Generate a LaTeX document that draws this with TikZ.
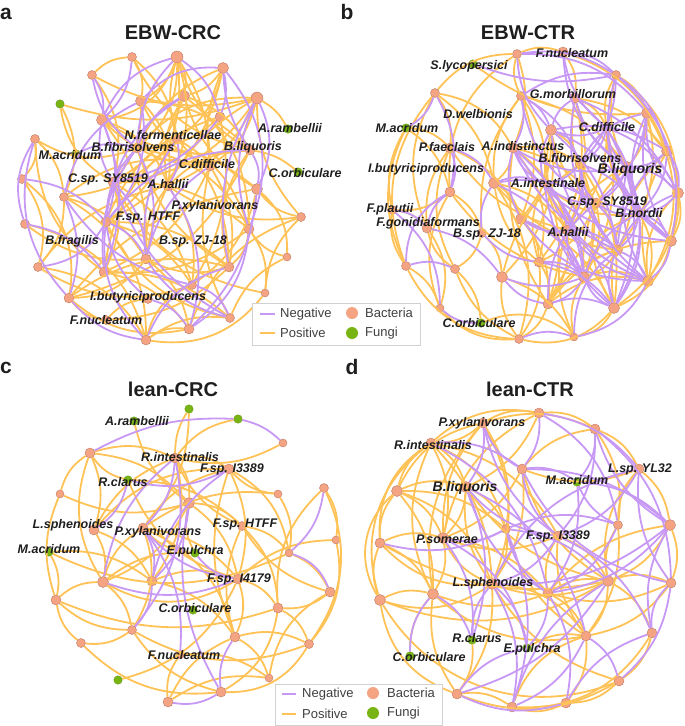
\documentclass[tikz,border=0pt]{standalone}
\usepackage{fontspec}
\setmainfont{Liberation Sans}
\definecolor{poscol}{RGB}{255,194,86}
\definecolor{negcol}{RGB}{200,152,245}
\definecolor{bacfill}{RGB}{244,164,130}
\definecolor{bacline}{RGB}{190,120,100}
\definecolor{funfill}{RGB}{120,180,20}
\definecolor{funline}{RGB}{95,145,15}
\definecolor{txt}{RGB}{30,30,30}
\tikzset{
  bac/.style={circle, draw=bacline, fill=bacfill, line width=0.4pt, inner sep=0pt, minimum size=#1},
  bac/.default=10pt,
  fun/.style={circle, draw=funline, fill=funfill, line width=0.3pt, inner sep=0pt, minimum size=8.5pt},
  posedge/.style={draw=poscol, line width=1.8pt},
  negedge/.style={draw=negcol, line width=1.8pt},
  lab/.style={font=\fontsize{12.5}{14}\selectfont\bfseries\itshape, text=txt, inner sep=0pt},
  biglab/.style={font=\fontsize{14}{16}\selectfont\bfseries\itshape, text=txt, inner sep=0pt},
  ttl/.style={font=\fontsize{20}{22}\selectfont\bfseries, text=txt, inner sep=0pt},
  letter/.style={font=\fontsize{21}{23}\selectfont\bfseries, text=txt, inner sep=0pt},
  legtxt/.style={font=\fontsize{13}{15}\selectfont, text=black!75, inner sep=0pt, anchor=west},
  legbox/.style={draw=black!18, line width=1pt, fill=white},
  legdot/.style={circle, inner sep=0pt, minimum size=12pt},
}
\begin{document}
\begin{tikzpicture}[x=1pt,y=-1pt]
\useasboundingbox (0,0) rectangle (685,726);
% ---------------- panel a nodes ----------------
\node[bac=9pt] (a1) at (132,57) {};
\node[bac=12pt] (a2) at (177,57) {};
\node[bac=11pt] (a3) at (223,68) {};
\node[bac=9pt] (a4) at (92,75) {};
\node[fun] (af1) at (60,104) {};
\node[bac=11pt] (a5) at (141,101) {};
\node[bac=11pt] (a6) at (184,96) {};
\node[bac=12pt] (a7) at (257,98) {};
\node[bac=10pt] (a8) at (220,117) {};
\node[bac=11pt] (a9) at (102,120) {};
\node[bac=9pt] (a10) at (35,139) {};
\node[fun] (af2) at (288,129) {};
\node[bac=10pt] (a11) at (177,139) {};
\node[bac=10pt] (a12) at (137,148) {};
\node[bac=10pt] (a13) at (250,150) {};
\node[fun] (af3) at (76,154) {};
\node[bac=10pt] (a14) at (210,166) {};
\node[fun] (af4) at (298,172) {};
\node[bac=9pt] (a15) at (22,179) {};
\node[bac=10pt] (a16) at (113,182) {};
\node[bac=10pt] (a17) at (168,186) {};
\node[bac=11pt] (a18) at (257,189) {};
\node[bac=9pt] (a19) at (64,197) {};
\node[bac=10pt] (a21) at (106,222) {};
\node[bac=9pt] (a22) at (301,217) {};
\node[bac=9pt] (a23) at (25,224) {};
\node[bac=10pt] (a24) at (249,229) {};
\node[bac=10pt] (a25) at (146,259) {};
\node[bac=8pt] (a26) at (287,257) {};
\node[bac=10pt] (a27) at (229,267) {};
\node[bac=9pt] (a28) at (38,267) {};
\node[bac=10pt] (a29) at (104,272) {};
\node[bac=9pt] (a30) at (192,285) {};
\node[bac=8pt] (a31) at (265,293) {};
\node[bac=10pt] (a32) at (69,298) {};
\node[bac=9pt] (a33) at (148,299) {};
\node[bac=9pt] (a34) at (230,318) {};
\node[bac=10pt] (a35) at (189,329) {};
\node[bac=10pt] (a36) at (146,340) {};
\node[bac=9pt] (a37) at (106,320) {};
% ---------------- panel b nodes ----------------
\node[bac=9pt] (b1) at (517,54) {};
\node[bac=10pt] (b2) at (563,52) {};
\node[fun] (bf1) at (473,64) {};
\node[bac=9pt] (b3) at (616,75) {};
\node[bac=9pt] (b4) at (435,93) {};
\node[bac=9pt] (b5) at (521,96) {};
\node[bac=10pt] (b6) at (575,98) {};
\node[bac=11pt] (b7) at (647,113) {};
\node[fun] (bf2) at (406,128) {};
\node[bac=11pt] (b9) at (551,130) {};
\node[bac=10pt] (b10) at (607,128) {};
\node[bac=10pt] (b11) at (450,148) {};
\node[bac=10pt] (b12) at (513,148) {};
\node[bac=11pt] (b13) at (667,151) {};
\node[bac=10pt] (b14) at (580,164) {};
\node[bac=11pt] (b15) at (627,167) {};
\node[bac=11pt] (b16) at (494,183) {};
\node[bac=10pt] (b17) at (544,183) {};
\node[bac=11pt] (b18) at (678,193) {};
\node[bac=10pt] (b19) at (450,192) {};
\node[bac=9pt] (b20) at (392,210) {};
\node[bac=10pt] (b21) at (596,203) {};
\node[bac=10pt] (b22) at (639,213) {};
\node[bac=11pt] (b23) at (521,219) {};
\node[bac=10pt] (b24) at (427,228) {};
\node[bac=9pt] (b25) at (482,233) {};
\node[bac=10pt] (b26) at (567,230) {};
\node[bac=11pt] (b27) at (671,241) {};
\node[bac=11pt] (b28) at (617,250) {};
\node[bac=10pt] (b29) at (539,262) {};
\node[bac=9pt] (b30) at (406,266) {};
\node[bac=9pt] (b31) at (455,269) {};
\node[bac=11pt] (b32) at (502,277) {};
\node[bac=11pt] (b33) at (584,277) {};
\node[bac=11pt] (b34) at (648,281) {};
\node[bac=10pt] (b35) at (548,304) {};
\node[bac=11pt] (b36) at (614,308) {};
\node[bac=8pt] (b37) at (440,308) {};
\node[fun] (bf3) at (481,323) {};
\node[bac=9pt] (b38) at (519,339) {};
\node[bac=8pt] (b39) at (574,337) {};
% ---------------- panel c nodes ----------------
\node[fun] (cf1) at (189,409) {};
\node[fun] (cf2) at (238,419) {};
\node[fun] (cf3) at (134,421) {};
\node[bac=8pt] (c1) at (283,443) {};
\node[bac=10pt] (c2) at (90,453) {};
\node[bac=10pt] (c3) at (175,458) {};
\node[bac=10pt] (c4) at (229,469) {};
\node[fun] (cf4) at (128,480) {};
\node[bac=9pt] (c5) at (324,488) {};
\node[bac=8pt] (c6) at (278,494) {};
\node[bac=8pt] (c7) at (60,494) {};
\node[bac=11pt] (c8) at (189,503) {};
\node[bac=10pt] (c9) at (94,530) {};
\node[bac=10pt] (c10) at (143,528) {};
\node[bac=9pt] (c11) at (242,526) {};
\node[bac=8pt] (c12) at (336,540) {};
\node[fun] (cf5) at (49,552) {};
\node[fun] (cf6) at (195,553) {};
\node[bac=8pt] (c13) at (289,553) {};
\node[bac=11pt] (c14) at (103,582) {};
\node[bac=10pt] (c15) at (152,581) {};
\node[bac=10pt] (c16) at (238,579) {};
\node[bac=10pt] (c17) at (330,592) {};
\node[bac=10pt] (c18) at (56,600) {};
\node[fun] (cf7) at (193,610) {};
\node[bac=10pt] (c19) at (278,608) {};
\node[bac=9pt] (c20) at (132,630) {};
\node[bac=10pt] (c21) at (235,637) {};
\node[bac=9pt] (c22) at (81,643) {};
\node[bac=9pt] (c23) at (309,644) {};
\node[bac=8pt] (c24) at (180,655) {};
\node[fun] (cf8) at (118,680) {};
\node[bac=8pt] (c25) at (269,678) {};
\node[bac=10pt] (c26) at (221,692) {};
\node[bac=10pt] (c27) at (168,702) {};
% ---------------- panel d nodes ----------------
\node[bac=10pt] (d1) at (539,413) {};
\node[bac=10pt] (d2) at (483,423) {};
\node[bac=10pt] (d3) at (595,429) {};
\node[bac=10pt] (d4) at (431,443) {};
\node[bac=10pt] (d5) at (522,469) {};
\node[bac=10pt] (d6) at (639,469) {};
\node[fun] (df1) at (577,482) {};
\node[bac=11pt] (d7) at (397,491) {};
\node[bac=11pt] (d8) at (466,487) {};
\node[bac=11pt] (d9) at (670,525) {};
\node[bac=9pt] (d10) at (618,525) {};
\node[bac=9pt] (d11) at (506,529) {};
\node[bac=10pt] (d12) at (558,536) {};
\node[bac=11pt] (d13) at (443,538) {};
\node[bac=10pt] (d14) at (380,543) {};
\node[bac=11pt] (d15) at (380,600) {};
\node[bac=11pt] (d16) at (433,594) {};
\node[bac=11pt] (d17) at (492,584) {};
\node[bac=10pt] (d18) at (548,593) {};
\node[bac=11pt] (d19) at (608,581) {};
\node[bac=10pt] (d20) at (671,583) {};
\node[bac=10pt] (d21) at (586,636) {};
\node[bac=10pt] (d22) at (652,633) {};
\node[fun] (df2) at (472,640) {};
\node[fun] (df3) at (527,648) {};
\node[fun] (df4) at (410,656) {};
\node[bac=10pt] (d23) at (619,681) {};
\node[bac=10pt] (d24) at (457,694) {};
\node[bac=10pt] (d25) at (566,703) {};
\node[bac=10pt] (d26) at (512,707) {};
% ---------------- edges a ----------------
\foreach \u/\v/\b in {a1/a4/-20,a1/a5/20,a1/a11/20,a1/a13/-25,a2/a5/20,a2/a11/-15,a2/a14/15,a2/a13/-20,a2/a17/20,a2/a12/25,a2/a9/30,a3/a11/20,a3/a14/-15,a3/a21/25,a3/a6/20,a4/a7/-20,a4/a16/25,af1/a7/-18,af1/a19/25,af1/a16/-25,a5/a13/20,a5/a14/-20,a5/a17/25,a6/a16/20,a6/a18/-20,a6/a24/25,a6/a13/20,a7/af2/15,a7/a14/20,a7/a16/25,a7/a25/-25,a7/a22/-20,a8/a12/20,a8/a21/-25,a8/a30/20,a9/a13/-20,a9/a17/25,a9/a25/20,a10/a15/25,a10/a19/20,a10/a29/-25,a10/a12/-25,a11/a27/20,a11/a29/-20,a12/a24/25,a13/af4/15,a13/a27/-25,a13/a32/25,a14/a29/20,a14/a34/-20,a15/a28/25,a15/a32/30,a16/a24/20,a16/a31/-25,a17/a30/20,a17/a28/-20,a18/a22/-20,a18/a26/25,a18/a32/-20,a18/a30/20,a19/a25/20,a19/a36/30,a21/a27/20,a21/a34/-25,a23/a25/-20,a23/a36/30,a24/a31/20,a24/a26/-20,a25/a35/20,a25/a32/25,a28/a30/-25,a28/a36/25,a29/a34/20,a30/a36/-25,a32/a35/-25,a34/a36/-20,a35/a22/25,a36/a31/-30,a24/a29/20,a27/a32/-25,a31/a22/20,a11/a19/20,a12/a27/-20,a14/a19/-25,a17/a22/-20,a26/a34/-20,a37/a33/20,a37/a27/-20,a2/a6/20,a2/a21/30,a3/a12/-20,a5/a16/20,a6/a17/-20,a7/a12/-25,a7/a17/20,a9/a14/-20,a11/a24/20,a12/a18/20,a13/a17/-20,a14/a27/20,a16/a30/20,a17/a25/-20,a21/a30/20,a24/a27/20,a25/a27/-20,a29/a35/20,a32/a37/-20,a36/a35/20,a19/a28/20,a16/a29/20}
  \draw[posedge] (\u) to[bend left=\b] (\v);
\foreach \u/\v/\b in {a2/a9/-25,a2/a12/-20,a3/a8/15,a3/a13/-15,a3/a5/-25,a3/a24/30,a7/a24/-20,a7/a18/25,a9/a21/20,a9/a16/-20,a10/a32/-30,a10/a23/-25,a12/a21/-20,a12/a25/20,a14/a25/-20,a15/a21/20,a16/a34/-20,a17/a35/25,a19/a32/20,a21/a33/-20,a24/a35/25,a27/a36/-25,a11/a25/-20,a13/a18/20,a5/a19/-25,a4/a9/20,af3/a12/20,a21/a25/20,a33/a35/20,a36/a32/20,a6/a12/-20,a1/a9/20,a8/a16/20,a13/a21/-25,a28/a21/-25,a7/a27/-20,a30/a34/25,a18/a35/20,a23/a29/20,a2/a8/20,a4/a12/-20,a5/a21/25,a6/a21/-25,a9/a29/20,a11/a17/20,a12/a29/-20,a16/a25/20,a19/a30/-20,a21/a36/-25,a25/a34/-20}
  \draw[negedge] (\u) to[bend left=\b] (\v);
% ---------------- edges b ----------------
\foreach \u/\v/\b in {b1/b2/20,b1/b19/-30,bf1/b7/-20,b1/b12/20,b1/b5/-20,b2/b6/20,b3/b7/20,b3/b15/-20,b4/b11/20,b4/b24/-25,b4/b12/25,b5/b17/20,b5/b25/-20,b5/b23/20,b6/b10/20,b6/b21/-20,b6/b29/25,b7/b15/20,b7/b13/-20,b7/b28/25,bf2/b11/20,bf2/b30/-25,bf2/b20/-20,b9/b14/20,b9/b26/-20,b9/b32/25,b10/b22/-20,b10/b33/20,b11/b23/20,b11/b31/-25,b12/b26/20,b12/b35/-20,b12/b29/25,b13/b27/20,b13/b34/-20,b14/b36/20,b14/b32/-20,b15/b28/20,b15/b33/-25,b16/b23/20,b16/b38/25,b17/b29/-20,b17/b35/20,b18/b27/20,b18/b34/-25,b19/b37/-25,b19/b25/20,b20/b24/20,b20/b30/-20,b21/b33/20,b21/b36/-20,b22/b34/20,b23/b29/20,b24/b37/25,b24/b31/-20,b25/b32/20,b26/b35/20,b26/b39/-20,b27/b36/25,b28/b35/-20,b29/b38/20,b30/b37/20,b30/b38/-30,b31/bf3/20,b32/b39/20,b33/b39/-20,b35/b38/20,b37/b38/-25,bf3/b39/30,b4/b30/-30,b1/b4/-25,b3/b18/25,b31/b38/-20,b36/b39/25,b34/b35/-25,b12/b21/20,b5/b15/20,b11/b26/-20,b19/b33/-20,b16/b28/-20,b6/b13/20,b9/b23/20,b17/b28/-20,b23/b36/20,b16/b29/-20,b2/b13/25,b3/b10/-20,b6/b26/20,b7/b34/30,b9/b21/-20,b10/b26/20,b12/b14/20,b13/b36/-25,b14/b33/20,b15/b26/-20,b16/b26/20,b17/b22/-25,b18/b36/25,b21/b29/20,b22/b35/-20,b23/b35/20,b27/b35/-25,b28/b33/20,b29/b35/20,b32/b38/-20,b33/b34/20,b36/b38/30,b25/b31/20,b11/b24/-20,b19/b20/20,bf2/b19/20,b4/b16/20,b5/b16/-20,b12/b16/20}
  \draw[posedge] (\u) to[bend left=\b] (\v);
\foreach \u/\v/\b in {b1/b7/25,bf1/b3/-15,b2/b10/-20,b3/b5/-20,b3/b14/20,b3/b22/-25,b5/b9/20,b5/b21/-25,b6/b15/-20,b6/b22/20,b6/b28/-25,b7/b14/-25,b7/b21/20,b7/b27/-20,b9/b17/-20,b9/b28/20,b10/b14/20,b10/b27/-25,b10/b36/25,b12/b15/-20,b12/b33/20,b12/b23/-20,b13/b22/20,b13/b28/-20,b14/b26/20,b14/b34/-20,b15/b21/20,b15/b27/-20,b15/b36/25,b17/b21/-20,b17/b33/20,b18/b28/-20,b18/b22/20,b21/b28/20,b21/b35/-25,b22/b27/20,b22/b33/-20,b23/b33/20,b26/b34/-20,b26/b36/20,b27/b34/20,b28/b39/-25,b29/b36/20,b32/b35/-20,b33/b35/20,b33/b36/-20,b34/b39/25,b11/b19/20,b16/b25/-20,b19/b30/-30,b20/b37/25,bf2/b4/-20,b4/b19/20,b24/b32/20,b25/b29/-20,b37/bf3/-20,b38/b39/20,b16/b17/20,b17/b26/20,b23/b26/-20,b1/b9/-20,b5/b12/20,b2/b3/20,b9/b10/-20,b10/b15/-20,b13/b15/20,b14/b21/-20,b22/b28/20,b14/b17/20,b30/b31/20,b24/b20/-20,b13/b18/20,b7/b18/-25,b35/b36/20,b9/b22/20,b12/b28/-20,b16/b33/20,b17/b34/-20,b2/b15/-25,b3/b13/20,b3/b27/30,b6/b18/20,b7/b22/-20,b9/b13/20,b9/b34/-25,b10/b18/20,b12/b27/-25,b14/b22/20,b14/b28/-20,b15/b18/20,b15/b34/-20,b17/b36/-20,b21/b27/20,b21/b22/-20,b22/b36/20,b23/b34/-25,b26/b28/20,b26/b33/-20,b28/b34/20,b28/b36/-20,b29/b33/20,b32/b33/-20,b12/b17/-20,b16/b21/20,b6/b9/-20,b5/b14/20,b11/b16/20,b19/b24/-20,b1/b3/20}
  \draw[negedge] (\u) to[bend left=\b] (\v);
% ---------------- edges c ----------------
\foreach \u/\v/\b in {cf1/c3/-15,cf1/c10/20,cf2/c3/-20,cf3/c8/-20,c2/c3/20,c2/cf4/-20,c2/c9/20,c2/c7/-20,c2/c14/-25,c3/c4/20,c3/c8/20,c3/c11/-20,c3/c15/25,c3/c1/-20,c4/c6/-20,c4/c16/20,c4/c13/25,c4/c21/-20,c4/c9/-25,cf4/c11/20,cf4/c16/-25,c5/c12/20,c5/c19/-25,c5/c23/30,c6/c13/20,c6/c10/-20,c7/c18/-20,c7/c8/-20,c8/c16/20,c8/cf6/-20,c9/c15/20,c10/c16/20,c10/cf6/-20,c10/c21/25,c11/c13/20,c11/c17/-20,c12/c16/-20,c12/c23/25,cf5/c18/20,cf5/c13/-25,cf5/c15/20,c14/c20/20,c14/c16/-30,c15/c21/20,c16/c19/20,c17/c19/20,c17/c25/-25,c18/c22/-20,c18/c19/-20,c19/c23/20,c19/c26/25,c20/c26/-20,c20/c23/-25,c21/c27/-20,c22/c26/-25,cf8/c16/-25,c23/c26/30,c24/c25/20,c27/c25/20,c27/c24/20,c21/c23/20,c13/c17/20,c14/cf6/20,c11/c19/20,c8/c14/20,c2/c8/20,c3/c9/-20,c4/c10/-20,c8/c11/20,c9/c14/20,c10/c14/-20,c11/c21/-20,c15/c16/20,c16/c21/20,c14/c18/-20,c20/c22/20,c18/c20/-20,c21/c25/20,c10/c20/25}
  \draw[posedge] (\u) to[bend left=\b] (\v);
\foreach \u/\v/\b in {cf2/c2/-15,cf2/c1/15,c3/c10/20,c3/c20/25,c4/cf4/20,c4/c15/-20,cf4/c9/20,c10/c15/20,c10/c24/20,c13/c17/25,c14/c16/-20,c16/cf6/20,c20/c15/-20,c21/c26/-20,c26/c27/20,c10/c16/-20,c13/c5/-20,c8/c26/-20,c3/c14/-20,c8/c15/20}
  \draw[negedge] (\u) to[bend left=\b] (\v);
% ---------------- edges d ----------------
\foreach \u/\v/\b in {d1/d2/-20,d1/d3/20,d1/d4/-25,d1/d8/20,d2/d4/20,d2/d13/-20,d2/d11/20,d2/d7/-25,d3/d6/20,d3/d10/20,d4/d7/-20,d4/d14/-30,d4/d13/20,d4/d16/-25,d4/d8/20,d4/d12/25,d5/d6/-20,d5/d17/20,d5/d19/-20,d6/d9/20,d6/d10/-20,d7/d14/-20,d7/d13/20,d7/d15/-40,d7/d16/20,d8/d13/20,d8/d17/-20,d8/d19/-20,d9/d20/20,d9/d18/-20,d10/d21/20,d11/d17/20,d11/d21/-20,d12/d19/20,d12/d18/-20,d13/d14/-20,d13/d16/20,d14/d15/-20,d14/d16/20,d15/d16/20,d15/d24/-30,d16/df4/-20,d17/d23/-20,d17/d24/20,d18/d20/-20,d18/d21/20,d19/d22/20,d19/d15/25,d20/d21/20,d21/d25/20,d21/d26/-25,d22/d23/20,d23/d25/20,d24/d26/20,d24/df2/-20,d25/d26/20,df3/d21/20,d19/d20/20,d14/d19/-20,d16/d21/-25,d7/d11/20,d15/d23/-40,d2/d3/20,d4/d17/20,d12/d21/-20,d13/d18/20,d2/d16/-25,d4/d15/-35,d7/d17/25,d1/d13/-25,d2/d17/25,d3/d5/-20,d4/d11/25,d7/d8/20,d8/d11/20,d5/d13/20,d13/d17/-20,d14/d17/-25,d15/d17/-25,d16/d18/-20,d17/d21/25,d18/d19/20,d19/d21/20,d10/d19/-20,d9/d19/20,d6/d19/-25,d22/d26/30,d23/d24/25,d16/d24/-20,d17/d19/-20,d12/d13/20}
  \draw[posedge] (\u) to[bend left=\b] (\v);
\foreach \u/\v/\b in {d1/d5/20,d2/d12/-20,d2/d8/20,d3/df1/20,d3/d9/-20,d3/d20/25,d5/df1/20,d5/d12/-20,d6/d12/20,d6/d20/-20,df1/d10/-20,df1/d18/20,d8/df2/20,d8/d12/-20,d9/d17/20,d9/d22/-20,d10/d18/20,d10/d11/-20,d11/d26/20,d12/d17/20,d13/df2/20,d13/d11/-20,d16/df2/20,d17/df3/20,d17/df2/-20,d18/df3/20,d19/d24/20,d20/d23/20,d20/d22/-25,df4/d16/20,d21/d26/20,d22/d25/-20,d24/d25/-20,d14/d11/-20,d5/d9/20,d1/d6/20,d4/d5/20,d8/d18/-20,d11/d19/20,df3/d24/-20,d1/d10/25,d2/d5/-20,d3/d12/20,d4/d18/25,d5/d20/-25,d6/d17/-25,df1/d9/20,d8/d21/25,d9/d18/20,d11/d18/-20,d12/d22/20,d13/df3/25,d17/d26/20,d18/d25/20,d19/d26/-20,d21/d23/20}
  \draw[negedge] (\u) to[bend left=\b] (\v);
% ---------------- letters and titles ----------------
\node[letter] (la) at (6,14) {a};
\node[letter] (lb) at (347,12) {b};
\node[letter] (lc) at (6,368) {c};
\node[letter] (ld) at (352,367) {d};
\node[ttl] (ta) at (173,33) {EBW-CRC};
\node[ttl] (tb) at (528,33) {EBW-CTR};
\node[ttl] (tc) at (173,389) {lean-CRC};
\node[ttl] (td) at (530,389) {lean-CTR};
% ---------------- labels a ----------------
\node[lab] (la1) at (173,135) {N.fermenticellae};
\node[lab] (la2) at (133,147) {B.fibrisolvens};
\node[lab] (la3) at (253,147) {B.liquoris};
\node[lab] (la4) at (290,128) {A.rambellii};
\node[lab] (la5) at (70,155) {M.acridum};
\node[lab] (la6) at (207,164) {C.difficile};
\node[lab] (la7) at (305,173) {C.orbiculare};
\node[lab] (la8) at (108,179) {C.sp. SY8519};
\node[lab] (la9) at (168,184) {A.hallii};
\node[lab] (la10) at (215,206) {P.xylanivorans};
\node[lab] (la11) at (148,217) {F.sp. HTFF};
\node[lab] (la12) at (72,241) {B.fragilis};
\node[lab] (la13) at (193,241) {B.sp. ZJ-18};
\node[lab] (la14) at (148,297) {I.butyriciproducens};
\node[lab] (la15) at (106,320) {F.nucleatum};
% ---------------- labels b ----------------
\node[lab] (lb1) at (469,66) {S.lycopersici};
\node[lab] (lb2) at (572,53) {F.nucleatum};
\node[lab] (lb3) at (573,94) {G.morbillorum};
\node[lab] (lb4) at (478,114) {D.welbionis};
\node[lab] (lb5) at (407,128) {M.acridum};
\node[lab] (lb6) at (607,127) {C.difficile};
\node[lab] (lb7) at (447,147) {P.faeclais};
\node[lab] (lb8) at (523,146) {A.indistinctus};
\node[lab] (lb9) at (580,158) {B.fibrisolvens};
\node[lab] (lb10) at (426,169) {I.butyriciproducens};
\node[biglab] (lb11) at (630,170) {B.liquoris};
\node[lab] (lb12) at (548,183) {A.intestinale};
\node[lab] (lb13) at (390,209) {F.plautii};
\node[lab] (lb14) at (607,202) {C.sp. SY8519};
\node[lab] (lb15) at (639,213) {B.nordii};
\node[lab] (lb16) at (428,223) {F.gonidiaformans};
\node[lab] (lb17) at (487,234) {B.sp. ZJ-18};
\node[lab] (lb18) at (568,232) {A.hallii};
\node[lab] (lb19) at (479,323) {C.orbiculare};
% ---------------- labels c ----------------
\node[lab] (lc1) at (137,421) {A.rambellii};
\node[lab] (lc2) at (180,457) {R.intestinalis};
\node[lab] (lc3) at (232,469) {F.sp. I3389};
\node[lab] (lc4) at (123,482) {R.clarus};
\node[lab] (lc5) at (73,525) {L.sphenoides};
\node[lab] (lc6) at (158,532) {P.xylanivorans};
\node[lab] (lc7) at (245,524) {F.sp. HTFF};
\node[lab] (lc8) at (49,549) {M.acridum};
\node[lab] (lc9) at (195,551) {E.pulchra};
\node[lab] (lc10) at (239,579) {F.sp. I4179};
\node[lab] (lc11) at (195,608) {C.orbiculare};
\node[lab] (lc12) at (184,655) {F.nucleatum};
% ---------------- labels d ----------------
\node[lab] (ld1) at (482,423) {P.xylanivorans};
\node[lab] (ld2) at (433,445) {R.intestinalis};
\node[lab] (ld3) at (640,469) {L.sp. YL32};
\node[lab] (ld4) at (577,480) {M.acridum};
\node[biglab] (ld5) at (465,488) {B.liquoris};
\node[lab] (ld6) at (558,536) {F.sp. I3389};
\node[lab] (ld7) at (447,539) {P.somerae};
\node[lab] (ld8) at (493,583) {L.sphenoides};
\node[lab] (ld9) at (477,638) {R.clarus};
\node[lab] (ld10) at (532,649) {E.pulchra};
\node[lab] (ld11) at (429,657) {C.orbiculare};
% ---------------- legends ----------------
\node[legbox, minimum width=168pt, minimum height=42pt, inner sep=0pt] (leg1) at (336,324) {};
\coordinate (l1n1) at (260,314); \coordinate (l1n2) at (275,314);
\coordinate (l1p1) at (260,333); \coordinate (l1p2) at (275,333);
\draw[negcol, line width=2.4pt] (l1n1) -- (l1n2);
\draw[poscol, line width=2.4pt] (l1p1) -- (l1p2);
\node[legtxt] (l1t1) at (280,314) {Negative};
\node[legtxt] (l1t2) at (280,333) {Positive};
\node[legdot, fill=bacfill] (l1d1) at (352,313) {};
\node[legdot, fill=funfill] (l1d2) at (352,333) {};
\node[legtxt] (l1t3) at (365,313) {Bacteria};
\node[legtxt] (l1t4) at (365,333) {Fungi};
\node[legbox, minimum width=167pt, minimum height=41pt, inner sep=0pt] (leg2) at (358.5,704.5) {};
\coordinate (l2n1) at (282,694); \coordinate (l2n2) at (296,694);
\coordinate (l2p1) at (282,714); \coordinate (l2p2) at (296,714);
\draw[negcol, line width=2.4pt] (l2n1) -- (l2n2);
\draw[poscol, line width=2.4pt] (l2p1) -- (l2p2);
\node[legtxt] (l2t1) at (302,694) {Negative};
\node[legtxt] (l2t2) at (302,714) {Positive};
\node[legdot, fill=bacfill] (l2d1) at (373,693) {};
\node[legdot, fill=funfill] (l2d2) at (373,713) {};
\node[legtxt] (l2t3) at (387,693) {Bacteria};
\node[legtxt] (l2t4) at (387,713) {Fungi};
\end{tikzpicture}
\end{document}
